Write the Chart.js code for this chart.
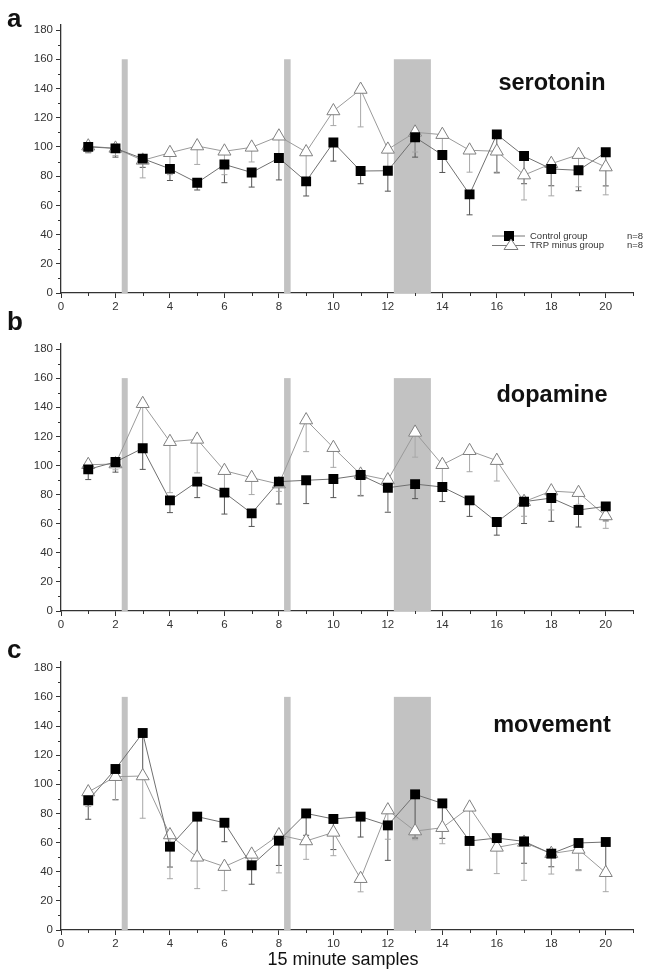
<!DOCTYPE html>
<html>
<head>
<meta charset="utf-8">
<script src="https://cdn.jsdelivr.net/npm/chart.js@4.4.1/dist/chart.umd.min.js"></script>
<style>
  html, body { margin:0; padding:0; background:#fff; }
  body { width:646px; height:975px; position:relative; overflow:hidden; font-family:"Liberation Sans", Arial, sans-serif; }
  canvas { position:absolute; left:0; }
  .lbl { position:absolute; line-height:1; white-space:nowrap; color:#111; }
  .letter { font-weight:bold; font-size:26px; left:7px; }
  .name { font-weight:bold; font-size:23.5px; width:160px; text-align:center; left:472px; }
</style>
</head>
<body>
<canvas id="ca"></canvas>
<canvas id="cb"></canvas>
<canvas id="cc"></canvas>
<div class="lbl letter" style="top:5px;">a</div>
<div class="lbl letter" style="top:308px;">b</div>
<div class="lbl letter" style="top:636px;">c</div>
<div class="lbl name" style="top:71px;">serotonin</div>
<div class="lbl name" style="top:383px;">dopamine</div>
<div class="lbl name" style="top:713px;">movement</div>
<div class="lbl" style="font-size:18px; top:950px; left:193px; width:300px; text-align:center; color:#111;">15 minute samples</div>
<script>
// ---- data ----
const samples = [1,2,3,4,5,6,7,8,9,10,11,12,13,14,15,16,17,18,19,20];
const seriesNames = ['Control group', 'TRP minus group'];
const groupSize = ['n=8', 'n=8'];
const panelTitles = ['serotonin', 'dopamine', 'movement'];

const serotoninControl    = [100, 99, 92, 85, 75.5, 88, 82.5, 92.4, 76.4, 103, 83.5, 83.7, 106.6, 94.5, 67.5, 108.6, 93.8, 84.9, 84, 96.3];
const serotoninControlErr = [4, 6, 6, 8, 5, 12.5, 10, 15, 10, 12.7, 8.7, 14, 13.6, 12, 14, 26, 19, 11.5, 14, 23];
const serotoninTrp        = [100.5, 99, 90.8, 96, 100.6, 97, 99.7, 107.3, 96.5, 124.6, 139.3, 98.3, 110, 108.4, 97.7, 97, 80.7, 88.5, 94.7, 86.2];
const serotoninTrpErr     = [4, 5, 12, 15, 12.6, 16, 10, 12, 20, 10, 25.6, 12, 13.5, 15, 15, 15, 17, 22, 22, 19];

const dopamineControl     = [97.3, 102.4, 111.8, 76, 88.9, 81.3, 67.1, 88.9, 89.8, 90.7, 93.4, 84.7, 87.2, 85.2, 76, 61.1, 75.1, 77.6, 69.4, 71.9];
const dopamineControlErr  = [7, 7, 14.5, 8.4, 11, 14.7, 9, 15.4, 16, 12.8, 14, 17, 10, 10, 11, 9, 15, 16, 11.7, 10];
const dopamineTrp         = [100.5, 101, 142.4, 116.3, 117.9, 96.4, 91.6, 87.2, 131.2, 112.2, 93.9, 90, 122.7, 100.5, 110.1, 103.3, 75.1, 82.4, 81.3, 65.3];
const dopamineTrpErr      = [3, 4, 30, 35, 23, 15, 11.6, 5, 21.7, 13.5, 15, 22, 17, 15, 14.4, 14, 10, 13, 8, 8.5];

const movementControl     = [89, 110.5, 135.2, 57.2, 77.8, 73.6, 44.4, 61.3, 80, 76.2, 77.8, 71.8, 93.1, 86.9, 61.1, 63.1, 60.8, 52.4, 59.7, 60.4];
const movementControlErr  = [13, 21, 30, 14, 28, 13, 13, 17, 15, 21, 14, 24, 30, 24, 20, 8, 15, 9, 18.5, 20];
const movementTrp         = [94.7, 105.2, 105.7, 65.2, 49.9, 43.5, 51.9, 65.2, 61.1, 67, 35.2, 82.3, 67.9, 70.2, 84.2, 56.7, 60.1, 52.4, 55.3, 39.3];
const movementTrpErr      = [10, 16, 29, 30, 21.5, 16.5, 10, 26, 12.6, 16, 9, 20, 6, 11, 42.6, 18, 26, 14, 14.6, 13];

const shadeStart = [2.23, 8.19, 12.22];
const shadeEnd   = [2.45, 8.43, 13.58];
const shadeTop   = 160;

const yTicks = [0, 20, 40, 60, 80, 100, 120, 140, 160, 180];
const yMinorTicks = [10, 30, 50, 70, 90, 110, 130, 150, 170];
const xTicks = [0, 2, 4, 6, 8, 10, 12, 14, 16, 18, 20];
const xMinorTicks = [1, 3, 5, 7, 9, 11, 13, 15, 17, 19, 21];

// ---- styling / layout ----
const AXIS = '#333';
const FONT = '"Liberation Sans", Arial, sans-serif';
const panels = [
  { id:'ca', top:0,   height:320, padTop:24.2, xAxisH:27, ctrl:serotoninControl, ctrlErr:serotoninControlErr, trp:serotoninTrp, trpErr:serotoninTrpErr, legend:true },
  { id:'cb', top:320, height:315, padTop:23.2, xAxisH:24, ctrl:dopamineControl,  ctrlErr:dopamineControlErr,  trp:dopamineTrp,  trpErr:dopamineTrpErr,  legend:false },
  { id:'cc', top:635, height:340, padTop:26.9, xAxisH:45, ctrl:movementControl,  ctrlErr:movementControlErr,  trp:movementTrp,  trpErr:movementTrpErr,  legend:false }
];

const shadePlugin = {
  id:'shade',
  beforeDatasetsDraw(chart) {
    const {ctx, scales:{x, y}} = chart;
    ctx.save();
    ctx.fillStyle = '#c2c2c2';
    for (let i = 0; i < shadeStart.length; i++) {
      const x0 = x.getPixelForValue(shadeStart[i]);
      const x1 = x.getPixelForValue(shadeEnd[i]);
      const y0 = y.getPixelForValue(shadeTop);
      const y1 = y.getPixelForValue(0);
      ctx.fillRect(x0, y0, x1 - x0, y1 - y0);
    }
    // error bars (downward, capped)
    chart.data.datasets.forEach((ds) => {
      ctx.strokeStyle = ds.errColor;
      ctx.lineWidth = 1;
      ds.data.forEach((p, i) => {
        const e = ds.err[i];
        const px = x.getPixelForValue(p.x);
        const py = y.getPixelForValue(p.y);
        const pe = y.getPixelForValue(p.y - e);
        ctx.beginPath();
        ctx.moveTo(px, py);
        ctx.lineTo(px, pe);
        ctx.moveTo(px - 3, pe);
        ctx.lineTo(px + 3, pe);
        ctx.stroke();
      });
    });
    ctx.restore();
  },
  afterDraw(chart) {
    const {ctx, scales:{x, y}, chartArea} = chart;
    ctx.save();
    ctx.strokeStyle = AXIS;
    ctx.lineWidth = 1;
    ctx.beginPath();
    yMinorTicks.forEach(v => {
      const py = Math.round(y.getPixelForValue(v)) + 0.5;
      ctx.moveTo(chartArea.left - 3, py);
      ctx.lineTo(chartArea.left, py);
    });
    xMinorTicks.forEach(v => {
      const px = Math.round(x.getPixelForValue(v)) + 0.5;
      ctx.moveTo(px, chartArea.bottom);
      ctx.lineTo(px, chartArea.bottom + 3);
    });
    ctx.stroke();
    if (chart.options.plugins.shade && chart.options.plugins.shade.legend) {
      const lx = chartArea.right - 141, ly1 = 236, ly2 = 245.5;
      ctx.strokeStyle = '#777';
      ctx.beginPath();
      ctx.moveTo(lx, ly1); ctx.lineTo(lx + 33, ly1);
      ctx.moveTo(lx, ly2); ctx.lineTo(lx + 33, ly2);
      ctx.stroke();
      ctx.fillStyle = '#000';
      ctx.fillRect(lx + 12, ly1 - 5, 10, 10);
      ctx.fillStyle = '#fff';
      ctx.strokeStyle = '#777';
      ctx.beginPath();
      ctx.moveTo(lx + 19, ly2 - 6.5);
      ctx.lineTo(lx + 26, ly2 + 4);
      ctx.lineTo(lx + 12, ly2 + 4);
      ctx.closePath();
      ctx.fill(); ctx.stroke();
      ctx.fillStyle = '#333';
      ctx.font = '9.5px ' + FONT;
      ctx.textBaseline = 'middle';
      ctx.fillText(seriesNames[0], lx + 38, ly1);
      ctx.fillText(seriesNames[1], lx + 38, ly2);
      ctx.fillText(groupSize[0], lx + 135, ly1);
      ctx.fillText(groupSize[1], lx + 135, ly2);
    }
    ctx.restore();
  }
};

panels.forEach(p => {
  const cv = document.getElementById(p.id);
  cv.style.top = p.top + 'px';
  cv.width = 646; cv.height = p.height;
  cv.style.width = '646px'; cv.style.height = p.height + 'px';
  new Chart(cv, {
    type: 'line',
    data: {
      datasets: [
        {
          label: seriesNames[0],
          data: samples.map((s, i) => ({x:s, y:p.ctrl[i]})),
          err: p.ctrlErr, errColor: '#555',
          borderColor: '#707070', borderWidth: 1,
          pointStyle: 'rect', pointRadius: 7, pointHoverRadius: 7,
          pointBackgroundColor: '#000', pointBorderColor: '#000', pointBorderWidth: 0,
          tension: 0
        },
        {
          label: seriesNames[1],
          data: samples.map((s, i) => ({x:s, y:p.trp[i]})),
          err: p.trpErr, errColor: '#a8a8a8',
          borderColor: '#9a9a9a', borderWidth: 1,
          pointStyle: 'triangle', pointRadius: 7.5, pointHoverRadius: 7.5,
          pointBackgroundColor: '#fff', pointBorderColor: '#808080', pointBorderWidth: 1,
          tension: 0
        }
      ]
    },
    options: {
      responsive: false,
      animation: false,
      devicePixelRatio: 1,
      layout: { padding: { top: p.padTop, right: 13, left: 0, bottom: 0 } },
      plugins: { legend: { display:false }, tooltip: { enabled:false }, shade: { legend: p.legend } },
      scales: {
        x: {
          type: 'linear', min: 0, max: 21,
          afterBuildTicks: s => { s.ticks = xTicks.map(v => ({value:v})); },
          afterFit: s => { s.height = p.xAxisH; },
          ticks: { color:'#333', font:{ family:FONT, size:11.5 }, padding: 2, maxRotation:0, autoSkip:false },
          grid: { drawOnChartArea:false, drawTicks:true, tickLength:5, color:AXIS, lineWidth:1 },
          border: { display:true, color:AXIS, width:1.3 }
        },
        y: {
          type: 'linear', min: 0, max: 184,
          afterBuildTicks: s => { s.ticks = yTicks.map(v => ({value:v})); },
          afterFit: s => { s.width = 61; },
          ticks: { color:'#333', font:{ family:FONT, size:11.5 }, padding: 3, autoSkip:false },
          grid: { drawOnChartArea:false, drawTicks:true, tickLength:5, color:AXIS, lineWidth:1 },
          border: { display:true, color:AXIS, width:1.3 }
        }
      }
    },
    plugins: [shadePlugin]
  });
});
</script>
</body>
</html>
